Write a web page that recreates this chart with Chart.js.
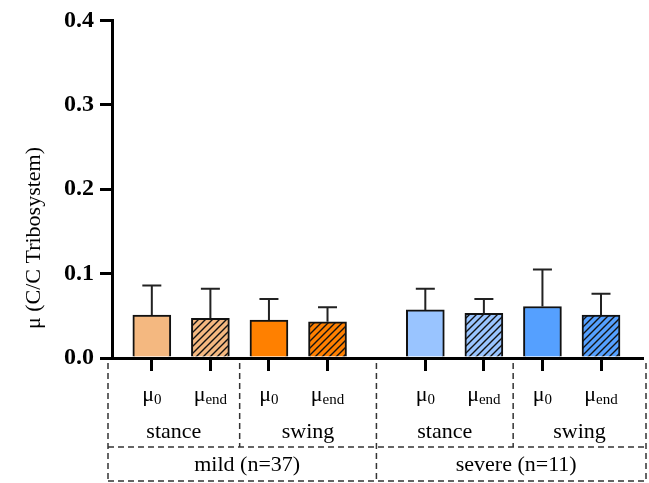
<!DOCTYPE html>
<html>
<head>
<meta charset="utf-8">
<script src="https://cdn.jsdelivr.net/npm/chart.js@4.4.1/dist/chart.umd.min.js"></script>
<style>html,body{margin:0;background:#fff}</style>
</head>
<body>
<canvas id="chart" width="649" height="483"></canvas>
<script>
(function () {
    "use strict";

    // data
    const muLabels = ['μ0', 'μend', 'μ0', 'μend', 'μ0', 'μend', 'μ0', 'μend'];
    const phases = ['stance', 'swing', 'stance', 'swing'];
    const groups = ['mild (n=37)', 'severe (n=11)'];
    const means = [0.051, 0.047, 0.045, 0.043, 0.057, 0.053, 0.061, 0.051];
    const sds = [0.035, 0.035, 0.025, 0.017, 0.025, 0.017, 0.044, 0.025];
    const yTicks = [0, 0.1, 0.2, 0.3, 0.4];

    const serif = "'Liberation Serif', 'Times New Roman', serif";
    Chart.defaults.font.family = serif;
    Chart.defaults.color = '#000';

    function hatch(color) {
        const c = document.createElement('canvas');
        c.width = 7; c.height = 7;
        const g = c.getContext('2d');
        g.fillStyle = color;
        g.fillRect(0, 0, 7, 7);
        g.strokeStyle = '#111';
        g.lineWidth = 1.4;
        g.beginPath();
        g.moveTo(-1, 8); g.lineTo(8, -1);
        g.moveTo(-1, 1); g.lineTo(1, -1);
        g.moveTo(6, 8); g.lineTo(8, 6);
        g.stroke();
        return g.createPattern(c, 'repeat');
    }

    const colors = ['#f4b880', '#ff8000', '#99c4ff', '#55a0ff'];
    const fills = means.map((_, i) => {
        const base = colors[Math.floor(i / 2)];
        return i % 2 ? hatch(base) : base;
    });

    // bar centres: one slot per bar, wider gap between the two groups
    const xPos = means.map((_, i) => i + Math.floor(i / 4) * 0.67);

    const errorBars = {
        id: 'errorBars',
        afterDatasetsDraw(chart) {
            const ctx = chart.ctx;
            const x = chart.scales.x, y = chart.scales.y;
            ctx.save();
            ctx.strokeStyle = '#222';
            ctx.lineWidth = 2;
            means.forEach((m, i) => {
                const cx = x.getPixelForValue(xPos[i]);
                const y0 = y.getPixelForValue(m);
                const y1 = y.getPixelForValue(m + sds[i]);
                ctx.beginPath();
                ctx.moveTo(cx, y0); ctx.lineTo(cx, y1);
                ctx.moveTo(cx - 9.5, y1); ctx.lineTo(cx + 9.5, y1);
                ctx.stroke();
            });
            ctx.restore();
        }
    };

    const table = {
        id: 'table',
        afterDraw(chart) {
            const ctx = chart.ctx;
            const x = chart.scales.x;
            const px = v => x.getPixelForValue(v);
            const left = chart.chartArea.left - 4;
            const right = chart.chartArea.right + 4;
            const mid = (a, b) => (px(xPos[a]) + px(xPos[b])) / 2;
            const groupSplit = mid(3, 4);
            const phaseSplits = [mid(1, 2), mid(5, 6)];
            const top = 363, rowLine = 447, bottom = 481;

            ctx.save();
            ctx.strokeStyle = '#333';
            ctx.lineWidth = 1.5;
            ctx.setLineDash([6, 4]);
            ctx.beginPath();
            [left, groupSplit, right].forEach(vx => {
                ctx.moveTo(vx, top); ctx.lineTo(vx, bottom);
            });
            phaseSplits.forEach(vx => {
                ctx.moveTo(vx, top); ctx.lineTo(vx, rowLine);
            });
            ctx.moveTo(left, rowLine); ctx.lineTo(right, rowLine);
            ctx.moveTo(left, bottom); ctx.lineTo(right, bottom);
            ctx.stroke();
            ctx.setLineDash([]);

            ctx.fillStyle = '#000';
            ctx.textBaseline = 'alphabetic';
            // μ labels with subscripts
            muLabels.forEach((lab, i) => {
                const main = lab.charAt(0), sub = lab.slice(1);
                ctx.font = '22px ' + serif;
                const w1 = ctx.measureText(main).width;
                ctx.font = '15px ' + serif;
                const w2 = ctx.measureText(sub).width;
                const sx = px(xPos[i]) - (w1 + w2) / 2;
                ctx.textAlign = 'left';
                ctx.font = '22px ' + serif;
                ctx.fillText(main, sx, 401);
                ctx.font = '15px ' + serif;
                ctx.fillText(sub, sx + w1, 404);
            });

            ctx.textAlign = 'center';
            ctx.font = '22px ' + serif;
            const cells = [left, phaseSplits[0], groupSplit, phaseSplits[1], right];
            phases.forEach((p, i) => {
                ctx.fillText(p, (cells[i] + cells[i + 1]) / 2, 438);
            });
            const gcells = [left, groupSplit, right];
            groups.forEach((g, i) => {
                ctx.fillText(g, (gcells[i] + gcells[i + 1]) / 2 + 5, 471);
            });

            // y axis title
            ctx.translate(34, 238);
            ctx.rotate(-Math.PI / 2);
            ctx.font = '22px ' + serif;
            ctx.textBaseline = 'middle';
            ctx.fillText('μ (C/C Tribosystem)', 0, 0);
            ctx.restore();
        }
    };

    const data = {
        datasets: [{
            data: means.map((m, i) => ({ x: xPos[i], y: m })),
            backgroundColor: fills,
            borderColor: '#111',
            borderWidth: 2,
            borderSkipped: 'bottom',
            barThickness: 38
        }]
    };

    const config = {
        type: 'bar',
        data: data,
        options: {
            responsive: false,
            animation: false,
            layout: { padding: { top: 19, right: 7, left: 0, bottom: 0 } },
            plugins: { legend: { display: false }, tooltip: { enabled: false } },
            scales: {
                x: {
                    type: 'linear',
                    min: -0.68,
                    max: 8.37,
                    offset: false,
                    afterBuildTicks: s => { s.ticks = xPos.map(v => ({ value: v })); },
                    afterFit: s => { s.height = 125; },
                    ticks: { display: false },
                    grid: {
                        offset: false,
                        drawOnChartArea: false,
                        drawTicks: true,
                        tickLength: 13,
                        lineWidth: 3,
                        color: '#000'
                    },
                    border: { display: true, color: '#000', width: 3 }
                },
                y: {
                    min: 0,
                    max: 0.4,
                    afterBuildTicks: s => { s.ticks = yTicks.map(v => ({ value: v })); },
                    afterFit: s => { s.width = 112; },
                    ticks: {
                        padding: 6,
                        font: { size: 24, weight: 'bold' },
                        callback: v => v.toFixed(1)
                    },
                    grid: {
                        drawOnChartArea: false,
                        drawTicks: true,
                        tickLength: 12,
                        lineWidth: 3,
                        color: '#000'
                    },
                    border: { display: true, color: '#000', width: 3 }
                }
            }
        },
        plugins: [errorBars, table]
    };

    new Chart(document.getElementById('chart'), config);
})();
</script>
</body>
</html>
